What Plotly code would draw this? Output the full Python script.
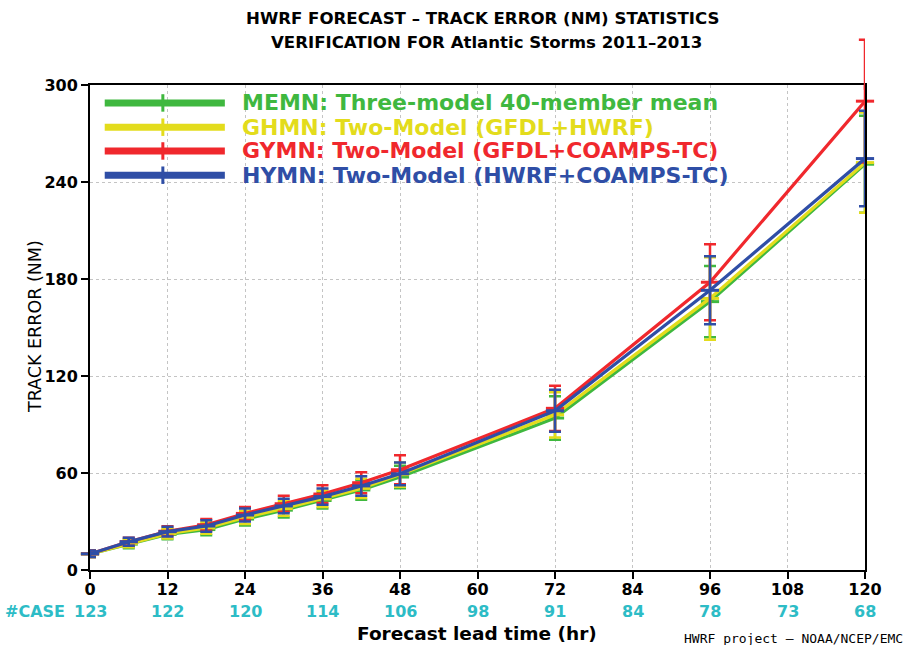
import plotly.graph_objects as go

# Forecast lead times (hr) and verification case counts
hours = [0, 6, 12, 18, 24, 30, 36, 42, 48, 72, 96, 120]
case_hours = [0, 12, 24, 36, 48, 60, 72, 84, 96, 108, 120]
case_counts = [123, 122, 120, 114, 106, 98, 91, 84, 78, 73, 68]

# Mean track error (NM) and error-bar half widths per ensemble mean
memn = [10, 16, 22, 25, 31.5, 37, 43, 49.5, 57.5, 94, 166, 251]
memn_err = [2, 2.5, 3, 3.5, 4, 4.5, 5, 6, 7, 13.5, 22, 30]
ghmn = [10, 16.5, 22.5, 26, 32.5, 38, 44, 50.5, 59, 96, 168, 252]
ghmn_err = [2, 2.5, 3, 3.5, 4, 4.5, 5, 6, 7.5, 14, 25.5, 31]
gymn = [10, 17.5, 24, 28, 35, 41, 47, 54, 62, 100, 178, 290]
gymn_err = [2, 2.5, 3, 3.5, 4, 5, 5.5, 6.5, 9, 14, 23.5, 38]
hymn = [10, 17.5, 23.7, 27.2, 34, 39.6, 45.4, 52, 59.5, 98.5, 173, 254.5]
hymn_err = [2, 2.5, 3, 3.5, 4, 4.5, 5, 6, 7, 13, 21, 29.5]

series_names = [
    "MEMN: Three-model 40-member mean",
    "GHMN: Two-Model (GFDL+HWRF)",
    "GYMN: Two-Model (GFDL+COAMPS-TC)",
    "HYMN: Two-Model (HWRF+COAMPS-TC)",
]
series_values = [memn, ghmn, gymn, hymn]
series_errors = [memn_err, ghmn_err, gymn_err, hymn_err]
series_colors = ["#3fb83f", "#e3dc1c", "#f0282d", "#2f4ea6"]

y_ticks = [0, 60, 120, 180, 240, 300]
x_ticks = [0, 12, 24, 36, 48, 60, 72, 84, 96, 108, 120]
x_range = [0, 120]
y_range = [0, 300]

FONT = "DejaVu Sans"
CAP_HALF_HR = 0.95  # half-length of an error-bar cap, in forecast hours

fig = go.Figure()

for name, vals, errs, color in zip(series_names, series_values, series_errors, series_colors):
    fig.add_trace(go.Scatter(
        x=hours, y=vals, name=name, mode="lines+markers",
        line=dict(color=color, width=3.2),
        marker=dict(symbol="line-ew", size=13, line=dict(color=color, width=3)),
        error_y=dict(type="data", array=errs, visible=True,
                     color=color, thickness=2.5, width=6),
        cliponaxis=False, showlegend=False,
    ))
    # error bars that run past the top of the y axis: continue them above the frame
    for h, v, e in zip(hours, vals, errs):
        top = v + e
        if top > y_range[1]:
            y_frac0 = (y_range[1] - y_range[0]) / (y_range[1] - y_range[0])
            y_frac1 = (top - y_range[0]) / (y_range[1] - y_range[0])
            fig.add_shape(type="line", xref="x", yref="y domain",
                          x0=h, x1=h, y0=y_frac0 - 0.01, y1=y_frac1,
                          line=dict(color=color, width=2.5), layer="above")
            fig.add_shape(type="line", xref="x", yref="y domain",
                          x0=h - CAP_HALF_HR, x1=h + CAP_HALF_HR,
                          y0=y_frac1, y1=y_frac1,
                          line=dict(color=color, width=2.5), layer="above")

# In-plot legend: thick sample line with a centre tick, then coloured label
leg_y = [0.963, 0.913, 0.864, 0.814]
for name, color, yy in zip(series_names, series_colors, leg_y):
    fig.add_shape(type="line", xref="x domain", yref="y domain",
                  x0=0.019, x1=0.174, y0=yy, y1=yy,
                  line=dict(color=color, width=7))
    fig.add_shape(type="line", xref="x domain", yref="y domain",
                  x0=0.094, x1=0.094, y0=yy - 0.018, y1=yy + 0.018,
                  line=dict(color=color, width=3))
    fig.add_annotation(xref="x domain", yref="y domain", x=0.1935, y=yy,
                       xanchor="left", yanchor="middle", showarrow=False,
                       text=name, font=dict(family=FONT, size=22, color=color,
                                            weight="bold"))

# Case counts row under the x axis
cyan = "#2dbcc6"
for h, c in zip(case_hours, case_counts):
    fig.add_annotation(xref="x", yref="paper", x=h, y=0, yshift=-41,
                       xanchor="center", yanchor="middle", showarrow=False,
                       text=str(c), font=dict(family=FONT, size=16, color=cyan,
                                              weight="bold"))
fig.add_annotation(xref="paper", yref="paper", x=0, y=0, xshift=-23, yshift=-41,
                   xanchor="right", yanchor="middle", showarrow=False,
                   text="#CASE", font=dict(family=FONT, size=16, color=cyan,
                                           weight="bold"))

# Titles and captions
fig.add_annotation(xref="paper", yref="paper", x=0.507, y=1, yshift=67,
                   xanchor="center", yanchor="middle", showarrow=False,
                   text="HWRF FORECAST \u2013 TRACK ERROR (NM) STATISTICS",
                   font=dict(family=FONT, size=16.6, color="black", weight="bold"))
fig.add_annotation(xref="paper", yref="paper", x=0.512, y=1, yshift=43,
                   xanchor="center", yanchor="middle", showarrow=False,
                   text="VERIFICATION FOR Atlantic Storms 2011\u20132013",
                   font=dict(family=FONT, size=16.6, color="black", weight="bold"))
fig.add_annotation(xref="paper", yref="paper", x=0.499, y=0, yshift=-63,
                   xanchor="center", yanchor="middle", showarrow=False,
                   text="Forecast lead time (hr)",
                   font=dict(family=FONT, size=18.5, color="black", weight="bold"))
fig.add_annotation(xref="paper", yref="paper", x=0, y=0.501, xshift=-55,
                   xanchor="center", yanchor="middle", showarrow=False,
                   textangle=-90, text="TRACK ERROR (NM)",
                   font=dict(family=FONT, size=17.5, color="black"))
fig.add_annotation(xref="paper", yref="paper", x=1, y=0, xshift=40, yshift=-68,
                   xanchor="right", yanchor="middle", showarrow=False,
                   text="HWRF project \u2013 NOAA/NCEP/EMC",
                   font=dict(family="DejaVu Sans Mono", size=13, color="black"))

axis_common = dict(
    showline=True, linecolor="black", linewidth=2, mirror=True,
    ticks="outside", ticklen=7, tickwidth=2, tickcolor="black",
    showgrid=True, gridcolor="#c4c4c4", gridwidth=1, griddash="dot",
    zeroline=False,
    tickfont=dict(family=FONT, size=16, color="black", weight="bold"),
)

fig.update_layout(
    width=908, height=645,
    margin=dict(l=90, r=43, t=85, b=75),
    paper_bgcolor="white", plot_bgcolor="white",
    xaxis=dict(range=x_range, tickvals=x_ticks, ticklabelstandoff=-3, **axis_common),
    yaxis=dict(range=y_range, tickvals=y_ticks, **axis_common),
    showlegend=False,
)

fig.write_html("out.html")
